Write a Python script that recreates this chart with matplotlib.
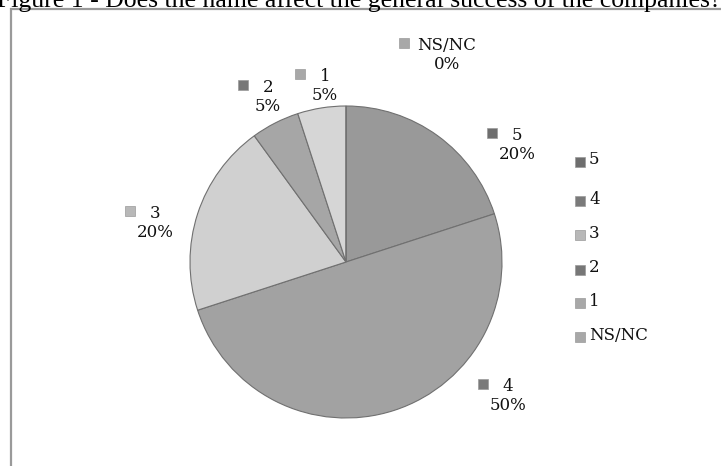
import matplotlib.pyplot as plt
from matplotlib.patches import Rectangle

# data
categories = ['5', '4', '3', '2', '1', 'NS/NC']
shares = [20, 50, 20, 5, 5, 0]
colors = ['#999999', '#a2a2a2', '#d0d0d0', '#a6a6a6', '#d6d6d6', '#c8c8c8']
marker_colors = ['#6e6e6e', '#7a7a7a', '#b8b8b8', '#777777', '#a8a8a8', '#a8a8a8']

# label anchor points (pixels from top-left)
label_pos = [(517, 145), (508, 396), (155, 223), (268, 97), (325, 86), (447, 55)]

W, H = 721, 466
fig = plt.figure(figsize=(W / 100, H / 100), dpi=100)
ax = fig.add_axes([0, 0, 1, 1])

# chart frame
ax.add_patch(Rectangle((11, -5), W, H - 9 + 5, fill=False, edgecolor='#9a9a9a', lw=1.6))

# title, clipped by the top edge like the scan
fig.text(-0.004, 1.0 - 7 / H, 'Figure 1 - Does the name affect the general success of the companies?',
         fontsize=18.5, family='Liberation Serif', va='baseline', ha='left')

cx, cy, r = 346, H - 262, 156
wedges, _ = ax.pie(shares, colors=colors, startangle=90, counterclock=False,
                   center=(cx, cy), radius=r, frame=True,
                   wedgeprops=dict(edgecolor='#707070', linewidth=0.8))
ax.set_xlim(0, W)
ax.set_ylim(0, H)
ax.set_aspect('equal')
ax.axis('off')

lab_font = dict(family='DejaVu Serif', fontsize=12, color='#111111')
for cat, val, (x, y), mc in zip(categories, shares, label_pos, marker_colors):
    ax.text(x, H - y, f'{cat}\n{val}%', ha='center', va='center', linespacing=1.2, **lab_font)
    w = len(cat) * 4.5 + 18
    ax.plot(x - w - 3, H - y + 12, marker='s', ms=6.5, color=mc, mec='#9a9a9a', mew=0.5)

# legend
leg_y = [160, 199, 233, 268, 301, 335]
for cat, y, mc in zip(categories, leg_y, marker_colors):
    ax.plot(580, H - y - 2, marker='s', ms=6.5, color=mc, mec='#9a9a9a', mew=0.5)
    ax.text(589, H - y, cat, ha='left', va='center', **lab_font)

fig.savefig('out.png', dpi=100)
